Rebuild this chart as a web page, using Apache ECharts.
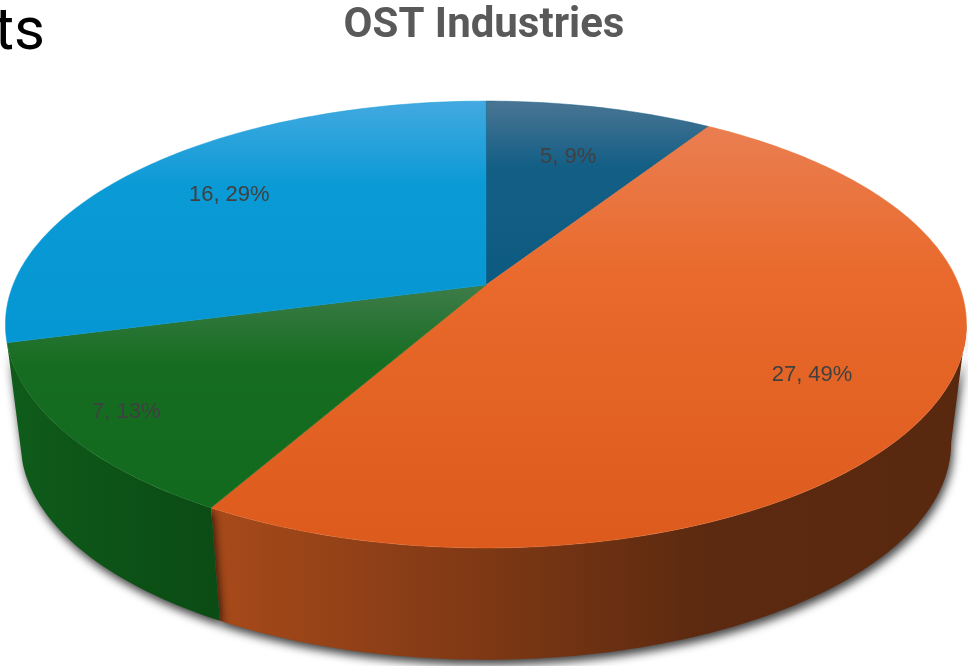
<!DOCTYPE html>
<html lang="en">
<head>
    <meta charset="UTF-8">
    <title>OST Industries</title>
    <style>
        html, body { margin: 0; padding: 0; background: #fff; }
        #chart { width: 968px; height: 666px; }
    </style>
    <script src="https://cdn.jsdelivr.net/npm/echarts/dist/echarts.min.js"></script>
</head>
<body>
    <div id="chart"></div>
    <script>
        // data
        const categories = ['Part A', 'Part B', 'Part C', 'Part D'];
        const values = [5, 27, 7, 16];

        // styles per slice (top gradient light -> base -> dark, wall left -> right)
        const topColors = [
            ['#4a7593', '#145f86', '#0d5a80'],
            ['#ea7e51', '#e96a2c', '#dc5a1c'],
            ['#3e7c49', '#166d21', '#126a1e'],
            ['#43a9e0', '#0a9ad6', '#0597d3']
        ];
        const wallColors = [
            ['#0b4a6a', '#083c57', '#083c57'],
            ['#a84a1a', '#5c2a10', '#58280f'],
            ['#0f5c1a', '#0c5016', '#0b4c14'],
            ['#087bb0', '#06679a', '#06679a']
        ];
        const labelRadius = [0.69, 0.75, 0.87, 0.74];

        const total = values.reduce((a, b) => a + b, 0);
        const starts = [];
        let acc = 0;
        values.forEach(v => { starts.push(acc / total * 360); acc += v; });

        const P = 0.1767; // perspective strength
        const WALL_FROM = 100, WALL_TO = 255; // visible part of the rim

        function geom(api) {
            const w = api.getWidth(), h = api.getHeight();
            return {
                top: { cx: w * 0.502, cy: h * 0.428, a: w * 0.4886, b: h * 0.325 },
                bot: { cx: w * 0.502, cy: h * 0.608, a: w * 0.473, b: h * 0.315 }
            };
        }

        // t: degrees clockwise from 12 o'clock
        function proj(face, t, r) {
            const ang = (90 - t) * Math.PI / 180;
            const u = r * Math.cos(ang), v = r * Math.sin(ang);
            const d = 1 + P * v;
            return [face.cx + face.a * u / d, face.cy - face.b * v / d];
        }

        function renderWall(params, api) {
            const i = params.dataIndex;
            const s = starts[i], e = s + api.value(0) / total * 360;
            const t0 = Math.max(s, WALL_FROM), t1 = Math.min(e, WALL_TO);
            if (t1 <= t0) return null;
            const g = geom(api);
            const n = Math.max(2, Math.ceil(t1 - t0));
            const pts = [];
            for (let k = 0; k <= n; k++) pts.push(proj(g.top, t0 + (t1 - t0) * k / n, 1));
            for (let k = n; k >= 0; k--) pts.push(proj(g.bot, t0 + (t1 - t0) * k / n, 1));
            const xs = pts.map(p => p[0]);
            const x0 = Math.min.apply(null, xs), x1 = Math.max.apply(null, xs);
            const fill = new echarts.graphic.LinearGradient(x0, 0, x1, 0, [
                { offset: 0, color: wallColors[i][0] },
                { offset: 0.65, color: wallColors[i][1] },
                { offset: 1, color: wallColors[i][2] }
            ], true);
            return {
                type: 'polygon',
                shape: { points: pts },
                style: {
                    fill: fill,
                    shadowBlur: 10,
                    shadowColor: 'rgba(0,0,0,0.75)',
                    shadowOffsetX: 2,
                    shadowOffsetY: 5
                }
            };
        }

        function renderTop(params, api) {
            const i = params.dataIndex;
            const v = api.value(0);
            const s = starts[i], e = s + v / total * 360;
            const g = geom(api);
            const n = Math.max(2, Math.ceil(e - s));
            const pts = [proj(g.top, s, 0)];
            for (let k = 0; k <= n; k++) pts.push(proj(g.top, s + (e - s) * k / n, 1));
            const fill = new echarts.graphic.LinearGradient(0, 0, 0, 1, [
                { offset: 0, color: topColors[i][0] },
                { offset: 0.35, color: topColors[i][1] },
                { offset: 1, color: topColors[i][2] }
            ]);
            const lp = proj(g.top, (s + e) / 2, labelRadius[i]);
            const pct = Math.round(v / total * 100);
            return {
                type: 'group',
                children: [{
                    type: 'polygon',
                    shape: { points: pts },
                    style: { fill: fill, stroke: topColors[i][1], lineWidth: 0.5 }
                }, {
                    type: 'text',
                    x: lp[0],
                    y: lp[1],
                    style: {
                        text: v + ', ' + pct + '%',
                        font: '22px "Liberation Sans", Arial, sans-serif',
                        fill: '#404040',
                        align: 'center',
                        verticalAlign: 'middle'
                    }
                }]
            };
        }

        const seriesData = values.map((v, i) => ({ name: categories[i], value: [v] }));

        const chart = echarts.init(document.getElementById('chart'));
        chart.setOption({
            animation: false,
            title: {
                text: 'OST Industries',
                left: 'center',
                top: 0,
                textStyle: {
                    fontFamily: 'Roboto',
                    fontSize: 42,
                    fontWeight: 'bold',
                    color: '#595959'
                }
            },
            graphic: [{
                type: 'text',
                x: 45,
                y: 34,
                style: {
                    text: 'ts',
                    font: '400 60px Roboto',
                    fill: '#000',
                    align: 'right',
                    verticalAlign: 'middle'
                }
            }],
            series: [{
                type: 'custom',
                coordinateSystem: 'none',
                data: seriesData,
                renderItem: renderWall
            }, {
                type: 'custom',
                coordinateSystem: 'none',
                data: seriesData,
                renderItem: renderTop
            }]
        });
    </script>
</body>
</html>
